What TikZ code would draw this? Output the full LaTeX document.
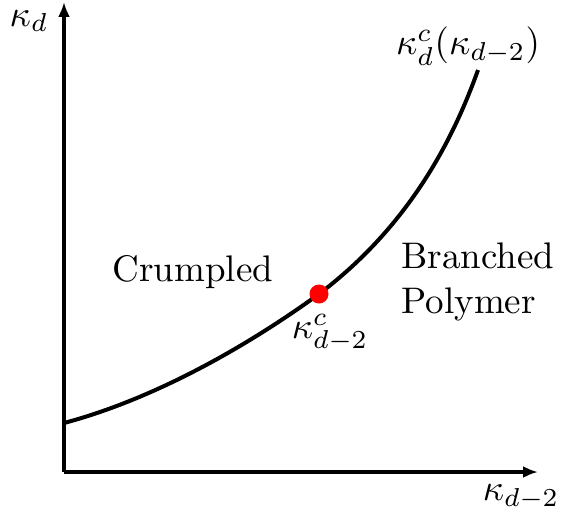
\documentclass[tikz,border=0pt]{standalone}
\usepackage{graphicx}
\usetikzlibrary{arrows.meta}
\newcommand{\biglab}[1]{\scalebox{3.7}{#1}}
\begin{document}
\begin{tikzpicture}[x=1pt,y=-1pt,
  axis/.style={line width=4pt,-{Latex[length=15pt,width=12pt]}},
  curveline/.style={line width=4pt},
  lbl/.style={inner sep=0pt}]
\useasboundingbox (0,0) rectangle (564,519);
\coordinate (O) at (64,472);
\coordinate (xend) at (538,472);
\coordinate (yend) at (64,2);
\coordinate (c0) at (64,423);
\coordinate (c1) at (319,294);
\coordinate (c2) at (478,70);
\draw[axis] (O) -- (xend);
\draw[axis] (O) -- (yend);
\draw[curveline] (c0) .. controls (154,399) and (246,347) .. (c1)
  .. controls (409,226) and (453,140) .. (c2);
\fill[red] (c1) circle (9.5pt);
\node[lbl] (ky) at (29,21) {\biglab{$\kappa_d$}};
\node[lbl] (kx) at (521,497) {\biglab{$\kappa_{d-2}$}};
\node[lbl] (kc) at (468,46) {\biglab{$\kappa_d^c(\kappa_{d-2})$}};
\node[lbl] (crum) at (193,272) {\biglab{Crumpled}};
\node[lbl] (bp) at (478,282) {\biglab{\begin{tabular}{@{}l@{}}Branched\\Polymer\end{tabular}}};
\node[lbl] (kd2) at (330,333) {\biglab{$\kappa^c_{d-2}$}};
\end{tikzpicture}
\end{document}
